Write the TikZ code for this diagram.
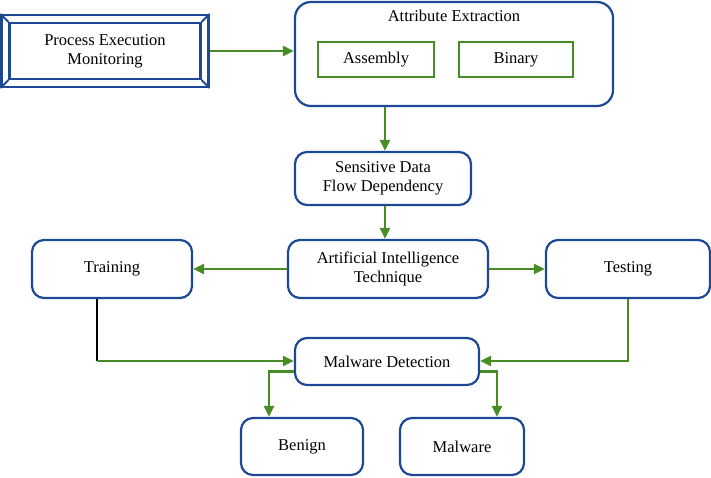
\documentclass[tikz,border=0pt]{standalone}
\usepackage{fontspec}
\setmainfont{Liberation Serif}
\usetikzlibrary{arrows.meta}
\definecolor{boxblue}{RGB}{28,72,150}
\definecolor{arrgreen}{RGB}{72,140,40}

\begin{document}
\begin{tikzpicture}[x=1pt,y=-1pt,
	font=\fontsize{16.5}{19}\selectfont,
	bluebox/.style={draw=boxblue,line width=2.2pt,rounded corners=12pt,align=center,inner sep=0pt},
	greenbox/.style={draw=arrgreen,line width=2.2pt,inner sep=0pt},
	flow/.style={draw=arrgreen,line width=2.2pt,-{Triangle[length=11pt,width=10pt]}}]
	\useasboundingbox (0,0) rectangle (711,477);
	%% top row
	\node[draw=boxblue,line width=2.2pt,minimum width=207pt,minimum height=72pt] (pem) at (105,51) {};
	\node[draw=boxblue,line width=2.2pt,minimum width=191pt,minimum height=56pt,align=center] (peminner) at (105,51) {Process Execution\\Monitoring};
	\foreach \c in {north west,north east,south west,south east}
	 \draw[boxblue,line width=1.8pt] (pem.\c) -- (peminner.\c);
	\node[bluebox,rounded corners=16pt,minimum width=318pt,minimum height=104pt] (ae) at (454,54) {};
	\node (aetitle) at (454,16) {Attribute Extraction};
	\node[greenbox,minimum width=116pt,minimum height=35pt] (asm) at (376,59.5) {Assembly};
	\node[greenbox,minimum width=114pt,minimum height=35pt] (bin) at (516,59.5) {Binary};
	%% middle
	\node[bluebox,minimum width=176pt,minimum height=53pt] (sdfd) at (383,178.5) {Sensitive Data\\Flow Dependency};
	\node[bluebox,minimum width=200pt,minimum height=58pt] (ait) at (388,269) {Artificial Intelligence\\Technique};
	\node[bluebox,minimum width=160pt,minimum height=58pt] (train) at (112,269) {Training};
	\node[bluebox,minimum width=164pt,minimum height=58pt] (test) at (628,269) {Testing};
	%% bottom
	\node[bluebox,minimum width=184pt,minimum height=47pt] (md) at (387,361.5) {Malware Detection};
	\node[bluebox,minimum width=122pt,minimum height=57pt] (benign) at (302,446.5) {Benign};
	\node[bluebox,minimum width=124pt,minimum height=57pt] (malw) at (462,446.5) {Malware};
	\coordinate (tcorner) at (97,361);
	%% connectors
	\draw[flow] (pem.east) -- (ae.west |- pem.east);
	\draw[flow] (ae.south -| 385,0) -- (sdfd.north -| 385,0);
	\draw[flow] (sdfd.south -| 385,0) -- (ait.north -| 385,0);
	\draw[flow] (ait.west) -- (train.east);
	\draw[flow] (ait.east) -- (test.west);
	\draw[black,line width=2.2pt] (train.south -| tcorner) -- (tcorner);
	\draw[flow] (tcorner) -- (md.west |- tcorner);
	\draw[flow] (test.south) |- (md.east |- tcorner);
	\draw[flow] ([yshift=-10pt]md.west) -| ([xshift=-33pt]benign.north);
	\draw[flow] ([yshift=-10pt]md.east) -| ([xshift=35pt]malw.north);
\end{tikzpicture}
\end{document}
